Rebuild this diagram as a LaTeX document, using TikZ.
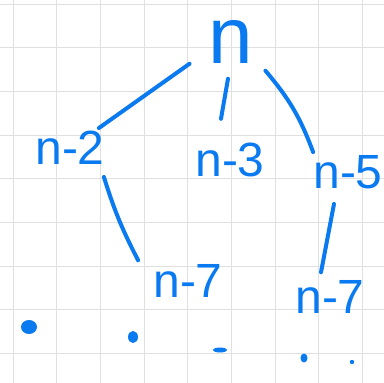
\documentclass[tikz,border=0pt]{standalone}
\usepackage{fontspec}
\setmainfont{Liberation Sans}
\usetikzlibrary{calc}
\definecolor{inkBlue}{HTML}{0A7AF0}
\definecolor{paperGrid}{HTML}{E0E0E0}
\tikzset{
  sketch/grid/.style   = {draw=paperGrid, line width=1pt},
  sketch/term/.style   = {text=inkBlue, inner sep=0pt, font=\fontsize{48}{48}\selectfont},
  sketch/root/.style   = {sketch/term, font=\fontsize{80}{80}\selectfont},
  sketch/stroke/.style = {draw=inkBlue, line width=4pt, line cap=round},
  sketch/dot/.style    = {fill=inkBlue},
}

\begin{document}
\begin{tikzpicture}[x=1pt, y=-1pt]
  \useasboundingbox (0,0) rectangle (384,383);
  % squared paper
  \foreach \k in {0,...,8} {
    \draw[sketch/grid] (13+43.7*\k,0) -- (13+43.7*\k,383);
    \draw[sketch/grid] (0,4+43.7*\k) -- (384,4+43.7*\k);
  }
  % terms of the tree
  \node[sketch/root] (n)   at (231,42)  {n};
  \node[sketch/term] (n2)  at (70,148)  {n-2};
  \node[sketch/term] (n3)  at (230,160) {n-3};
  \node[sketch/term] (n5)  at (348,172) {n-5};
  \node[sketch/term] (n7a) at (188,281) {n-7};
  \node[sketch/term] (n7b) at (330,297) {n-7};
  % strokes between terms
  \draw[sketch/stroke] ($(n.south west)+(-19,0)$) -- ($(n2.north east)+(-6,-3)$);
  \draw[sketch/stroke] ($(n.south)+(-3,15)$) -- ($(n3.north)+(-9,-24)$);
  \draw[sketch/stroke] ($(n.south east)+(12,7)$) to[bend left=10] ($(n5.north west)+(0,-3)$);
  \draw[sketch/stroke] ($(n2.south east)+(-1,12)$) to[bend right=5] ($(n7a.north west)+(-15,-4)$);
  \draw[sketch/stroke] ($(n5.south)+(-14,15)$) -- ($(n7b.north)+(-9,-8)$);
  % loose marks
  \fill[sketch/dot] (29,327) ellipse (8 and 7);
  \fill[sketch/dot] (133,337) ellipse (5 and 6);
  \fill[sketch/dot] (220,350) ellipse (7 and 2.5);
  \fill[sketch/dot] (304,358) ellipse (3.5 and 4.5);
  \fill[sketch/dot] (352,362) circle (2.2);
\end{tikzpicture}
\end{document}
